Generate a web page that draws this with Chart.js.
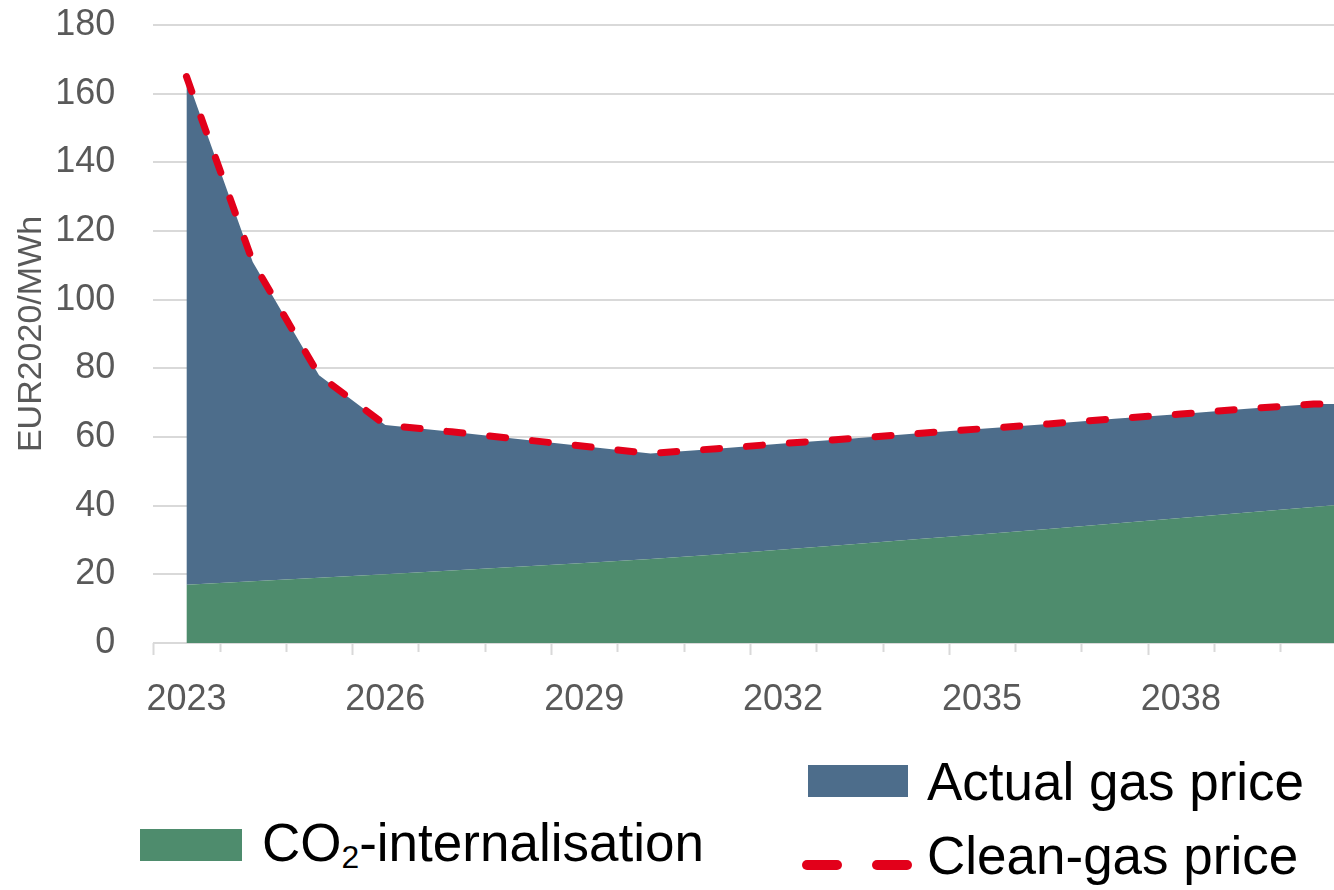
<!DOCTYPE html>
<html><head><meta charset="utf-8">
<script src="https://cdn.jsdelivr.net/npm/chart.js@4.4.1/dist/chart.umd.min.js"></script>
<style>
html,body{margin:0;padding:0;background:#fff;width:1334px;height:890px;overflow:hidden;}
#wrap{position:absolute;left:0;top:0;width:1334px;height:720px;}
.lg{position:absolute;font-family:"Liberation Sans",Arial,sans-serif;font-size:53px;line-height:53px;color:#000;white-space:nowrap;}
.box{position:absolute;}
.dash{position:absolute;height:10px;border-radius:5px;background:#E2001A;}
sub{font-size:0.6em;vertical-align:-0.22em;line-height:0;}
</style></head><body>
<div id="wrap"><canvas id="c" width="1334" height="720"></canvas></div>
<div class="box" style="left:808px;top:765px;width:100px;height:32px;background:#4D6D8B"></div>
<div class="lg" id="lgActual" style="left:927px;top:755px"></div>
<div class="dash" style="left:802px;top:860px;width:40px"></div>
<div class="dash" style="left:872px;top:860px;width:40px"></div>
<div class="lg" id="lgClean" style="left:927px;top:829px"></div>
<div class="box" style="left:140px;top:829px;width:102px;height:32px;background:#4E8C6D"></div>
<div class="lg" id="lgCo2" style="left:262px;top:816px"></div>
<script>
const years      = [2023,2024,2025,2026,2027,2028,2029,2030,2031,2032,2033,2034,2035,2036,2037,2038,2039,2040,2041];
const co2        = [17.0,18.0,19.0,20.0,21.1,22.2,23.3,24.5,25.8,27.2,28.7,30.2,31.7,33.2,34.8,36.4,38.0,39.6,41.2];
const actualGas  = [148.0,93.0,59.0,43.5,40.4,37.2,34.0,30.7,30.8,30.9,30.8,30.8,30.7,30.6,30.5,30.3,30.2,30.0,28.4];
const cleanGas   = [165.0,111.0,78.0,63.5,61.5,59.4,57.3,55.2,56.6,58.1,59.5,61.0,62.4,63.8,65.3,66.7,68.2,69.6,69.6];
const xTickLabels = [2023,2026,2029,2032,2035,2038];
const yTicks = [0,20,40,60,80,100,120,140,160,180];
const nameCo2 = 'CO<sub>2</sub>-internalisation';
const nameActual = 'Actual gas price';
const nameClean = 'Clean-gas price';
const yTitle = 'EUR2020/MWh';

document.getElementById('lgActual').textContent = nameActual;
document.getElementById('lgClean').textContent = nameClean;
document.getElementById('lgCo2').innerHTML = nameCo2;

const pts = arr => years.map((yr,i)=>({x:yr,y:arr[i]}));
const FONT = '"Liberation Sans", Arial, sans-serif';

const tickMarks = {
  id:'tickMarks',
  afterDraw(chart){
    const x = chart.scales.x, ca = chart.chartArea, ctx = chart.ctx;
    ctx.save();
    ctx.strokeStyle = '#d9d9d9';
    ctx.lineWidth = 2;
    years.forEach((yr,i)=>{
      const v = yr - 0.5;
      if (v > x.max) return;
      const px = Math.round(x.getPixelForValue(v)) + 0.5;
      const len = (i % 3 === 0) ? 12 : 9;
      ctx.beginPath();
      ctx.moveTo(px, ca.bottom);
      ctx.lineTo(px, ca.bottom + len);
      ctx.stroke();
    });
    ctx.restore();
  }
};

new Chart(document.getElementById('c'), {
  type:'line',
  data:{
    datasets:[
      {label:nameClean, data:pts(cleanGas), stack:'line', borderColor:'#E2001A', borderWidth:7,
       borderDash:[16,27], borderCapStyle:'round', fill:false, pointRadius:0, tension:0},
      {label:'CO2-internalisation', data:pts(co2), stack:'area', backgroundColor:'#4E8C6D', borderWidth:0,
       fill:'origin', pointRadius:0, tension:0},
      {label:nameActual, data:pts(actualGas), stack:'area', backgroundColor:'#4D6D8B', borderWidth:0,
       fill:'-1', pointRadius:0, tension:0}
    ]
  },
  options:{
    responsive:false,
    animation:false,
    layout:{padding:{top:25,left:0,right:0,bottom:0}},
    plugins:{legend:{display:false},tooltip:{enabled:false}},
    scales:{
      x:{
        type:'linear', min:2022.5, max:2040.31,
        grid:{display:false}, border:{display:false},
        afterBuildTicks:s=>{ s.ticks = xTickLabels.map(v=>({value:v})); },
        afterFit:s=>{ s.height = 77; s.paddingLeft = 0; s.paddingRight = 0; },
        ticks:{font:{family:FONT,size:36}, color:'#595959', padding:27, maxRotation:0, autoSkip:false,
               callback:v=>String(v)}
      },
      y:{
        stacked:true, min:0, max:180, z:1,
        afterBuildTicks:s=>{ s.ticks = yTicks.map(v=>({value:v})); },
        afterFit:s=>{ s.width = 153.3; s.paddingTop = 0; s.paddingBottom = 0; },
        grid:{color:'rgba(0,0,0,0.15)', lineWidth:2, drawTicks:false},
        border:{display:false},
        ticks:{font:{family:FONT,size:36}, color:'#595959', padding:38},
        title:{display:true, text:yTitle, font:{family:FONT,size:34}, color:'#595959', padding:{top:11,bottom:0}}
      }
    }
  },
  plugins:[tickMarks]
});
</script>
</body></html>
